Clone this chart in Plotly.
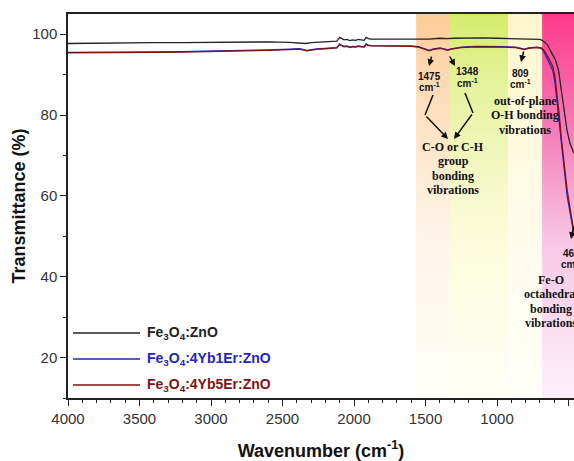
import plotly.graph_objects as go

# ---------------- data ----------------
wn_black = [4000, 3800, 3600, 3400, 3200, 3000, 2800, 2600, 2450, 2380, 2340, 2300, 2250, 2200,
            2150, 2120, 2100, 2090, 2070, 2050, 2030, 2010, 1990, 1970, 1950, 1930, 1915, 1900,
            1880, 1850, 1800, 1700, 1600, 1500, 1475, 1400, 1348, 1300, 1200, 1100, 1000, 900,
            809, 750, 700, 685, 650, 620, 590, 570, 550, 530, 510, 490, 470, 462]
t_black = [97.7, 97.8, 97.8, 97.9, 97.9, 98.0, 98.0, 98.1, 98.0, 97.8, 97.7, 97.9, 98.0, 98.0,
           98.1, 98.3, 99.2, 99.0, 98.6, 98.7, 98.4, 98.6, 98.5, 98.7, 98.6, 98.5, 99.2, 98.9,
           98.8, 98.8, 98.9, 98.9, 98.9, 98.9, 98.8, 99.0, 98.9, 99.0, 99.1, 99.1, 99.0, 98.9,
           98.8, 98.9, 98.7, 98.5, 97.5, 95.5, 93.5, 91.0, 86.0, 80.0, 76.0, 73.0, 71.0, 70.5]

wn_blue = [4000, 3800, 3600, 3400, 3200, 3000, 2800, 2600, 2450, 2380, 2330, 2300, 2250, 2200,
           2150, 2120, 2100, 2090, 2070, 2050, 2030, 2010, 1990, 1970, 1950, 1930, 1915, 1900,
           1880, 1850, 1800, 1700, 1600, 1550, 1500, 1475, 1450, 1400, 1370, 1348, 1320, 1250,
           1150, 1050, 950, 870, 830, 809, 780, 720, 690, 670, 650, 630, 610, 595, 580, 565,
           550, 530, 510, 490, 475, 462]
t_blue = [95.5, 95.5, 95.5, 95.6, 95.7, 95.8, 95.9, 96.1, 96.3, 96.4, 96.0, 96.2, 96.4, 96.5,
          96.6, 96.7, 97.6, 97.3, 97.0, 97.1, 96.8, 97.0, 96.9, 97.1, 97.0, 96.9, 97.6, 97.3,
          97.2, 97.2, 97.2, 97.2, 97.1, 96.9, 96.4, 96.0, 96.3, 96.6, 96.4, 96.1, 96.4, 96.8,
          97.0, 97.0, 96.9, 96.8, 96.5, 96.3, 96.6, 96.8, 96.5, 95.5, 94.0, 92.5, 91.0, 88.0,
          83.0, 78.0, 72.0, 65.0, 60.0, 56.0, 53.0, 50.5]

wn_red = [4000, 3800, 3600, 3400, 3200, 3000, 2800, 2600, 2450, 2380, 2330, 2300, 2250, 2200,
          2150, 2120, 2100, 2090, 2070, 2050, 2030, 2010, 1990, 1970, 1950, 1930, 1915, 1900,
          1880, 1850, 1800, 1700, 1600, 1550, 1500, 1475, 1450, 1400, 1370, 1348, 1320, 1250,
          1150, 1050, 950, 870, 830, 809, 780, 720, 690, 670, 650, 630, 610, 595, 580, 565,
          550, 530, 510, 490, 475, 462]
t_red = [95.4, 95.4, 95.5, 95.5, 95.6, 95.7, 95.9, 96.0, 96.2, 96.3, 95.9, 96.1, 96.3, 96.4,
         96.5, 96.6, 97.5, 97.2, 96.9, 97.0, 96.7, 96.9, 96.8, 97.0, 96.9, 96.8, 97.5, 97.2,
         97.1, 97.1, 97.1, 97.1, 97.0, 96.8, 96.3, 95.9, 96.2, 96.5, 96.3, 96.0, 96.3, 96.7,
         96.9, 96.9, 96.8, 96.7, 96.4, 96.2, 96.5, 96.7, 96.6, 95.9, 94.8, 93.5, 92.0, 89.5,
         85.0, 80.0, 74.0, 67.0, 61.5, 57.0, 53.5, 51.0]

series_names = ["Fe<sub>3</sub>O<sub>4</sub>:ZnO",
                "Fe<sub>3</sub>O<sub>4</sub>:4Yb1Er:ZnO",
                "Fe<sub>3</sub>O<sub>4</sub>:4Yb5Er:ZnO"]
series_colors = ["#222222", "#2424c0", "#7d1515"]

# highlighted spectral bands (cm-1)
band_edges = [(1566, 1329), (1329, 923), (923, 685), (685, 462)]
band_scales = [
    [[0, "#fffefa"], [0.45, "#fff3e6"], [0.8, "#fedcb8"], [1, "#fdcb96"]],
    [[0, "#fffff6"], [0.45, "#fbfbd8"], [0.8, "#e6f3a0"], [1, "#d4ec6a"]],
    [[0, "#fffffa"], [0.5, "#fffbe8"], [1, "#fff6cc"]],
    [[0, "#fdf0fa"], [0.4, "#f8c8e4"], [0.7, "#f57cb8"], [1, "#ff3a8a"]],
]

x_range = [4000, 462]
y_range = [10, 105]
x_ticks = [4000, 3500, 3000, 2500, 2000, 1500, 1000, 500]
y_ticks = [20, 40, 60, 80, 100]

W, H = 574, 461
ML, MR, MT, MB = 68, 0, 14, 63
PW = W - ML - MR
PH = H - MT - MB


def px_x(px):
    return (px - ML) / PW


def px_y(py):
    return 1 - (py - MT) / PH


fig = go.Figure()

for (x0, x1), cs in zip(band_edges, band_scales):
    fig.add_trace(go.Scatter(
        x=[x0, x1, x1, x0, x0], y=[y_range[0], y_range[0], y_range[1], y_range[1], y_range[0]],
        mode="lines", line=dict(width=0), fill="toself",
        fillgradient=dict(type="vertical", colorscale=cs),
        hoverinfo="skip", showlegend=False))

for wn, t, nm, col in zip([wn_black, wn_blue, wn_red], [t_black, t_blue, t_red],
                          series_names, series_colors):
    fig.add_trace(go.Scatter(x=wn, y=t, mode="lines", name=nm,
                             line=dict(color=col, width=1.3), showlegend=False))

shapes = []
annotations = []

# manual legend
leg_y = [333, 359, 385]
for nm, col, yy in zip(series_names, series_colors, leg_y):
    shapes.append(dict(type="line", xref="paper", yref="paper",
                       x0=px_x(73), x1=px_x(140), y0=px_y(yy), y1=px_y(yy),
                       line=dict(color=col, width=1.3)))
    annotations.append(dict(xref="paper", yref="paper", x=px_x(145), y=px_y(yy),
                            text="<b>" + nm + "</b>", showarrow=False,
                            xanchor="left", yanchor="middle",
                            font=dict(family="Arial, Liberation Sans", size=14, color=col)))

small = dict(family="Arial, Liberation Sans", size=10, color="#111111")
serif = dict(family="Liberation Serif, Times New Roman", size=12, color="#111111")

# wavenumber labels
for txt, cx, cy in [("1475", 429, 76), ("1348", 467, 72), ("809", 520, 73), ("461", 571, 253)]:
    annotations.append(dict(xref="paper", yref="paper", x=px_x(cx), y=px_y(cy),
                            text="<b>" + txt + "</b>", showarrow=False, font=small,
                            xanchor="center", yanchor="middle"))
    annotations.append(dict(xref="paper", yref="paper", x=px_x(cx), y=px_y(cy + 11),
                            text="<b>cm<sup>-1</sup></b>", showarrow=False, font=small,
                            xanchor="center", yanchor="middle"))

# multi-line serif labels
for lines, cx, cy0 in [(["out-of-plane", "O-H bonding", "vibrations"], 525, 101),
                       (["C-O or C-H", "group", "bonding", "vibrations"], 453, 147),
                       (["Fe-O", "octahedral", "bonding", "vibrations"], 551, 280)]:
    for i, ln in enumerate(lines):
        annotations.append(dict(xref="paper", yref="paper", x=px_x(cx), y=px_y(cy0 + i * 14.3),
                                text="<b>" + ln + "</b>", showarrow=False, font=serif,
                                xanchor="center", yanchor="middle"))

# small arrows (tip, tail) in pixels
for (tx, ty), (sx, sy) in [((429, 66), (432, 55)), ((455, 66), (449, 55)),
                           ((521, 62), (524, 50)), ((571, 239), (578, 225)),
                           ((448, 139), (425, 115)), ((454, 139), (473, 113))]:
    annotations.append(dict(xref="paper", yref="paper", x=px_x(tx), y=px_y(ty),
                            ax=sx - tx, ay=sy - ty, text="", showarrow=True,
                            arrowhead=2, arrowsize=0.9, arrowwidth=1.5, arrowcolor="#111111"))

# upper parts of the V connector
for (x0, y0), (x1, y1) in [((433, 95), (425, 115)), ((465, 93), (473, 113))]:
    shapes.append(dict(type="line", xref="paper", yref="paper",
                       x0=px_x(x0), y0=px_y(y0), x1=px_x(x1), y1=px_y(y1),
                       line=dict(color="#111111", width=1.5)))

axis_font = dict(family="Arial, Liberation Sans", size=15, color="#333333")
title_font = dict(family="Arial, Liberation Sans", size=18, color="#111111")

fig.update_layout(
    width=W, height=H,
    margin=dict(l=ML, r=MR, t=MT, b=MB, pad=0),
    paper_bgcolor="white", plot_bgcolor="white",
    shapes=shapes, annotations=annotations,
    xaxis=dict(range=x_range, tickvals=x_ticks, ticks="outside", ticklen=6, tickwidth=1.3,
               tickcolor="#222", showline=True, linecolor="#222", linewidth=1.5, mirror=True,
               showgrid=False, zeroline=False, tickfont=axis_font,
               minor=dict(dtick=100, ticks="outside", ticklen=3, tickwidth=1.1, tickcolor="#222"),
               title=dict(text="<b>Wavenumber (cm<sup>-1</sup>)</b>", font=title_font, standoff=20)),
    yaxis=dict(range=y_range, tickvals=y_ticks, ticks="outside", ticklen=6, tickwidth=1.3,
               tickcolor="#222", showline=True, linecolor="#222", linewidth=1.5, mirror=False,
               showgrid=False, zeroline=False, tickfont=axis_font,
               minor=dict(dtick=10, ticks="outside", ticklen=3, tickwidth=1.1, tickcolor="#222"),
               title=dict(text="<b>Transmittance (%)</b>", font=title_font, standoff=2)),
)

fig.write_html("out.html", config={"displayModeBar": False},
               post_script="document.body.style.margin='0';document.body.style.overflow='hidden';")
